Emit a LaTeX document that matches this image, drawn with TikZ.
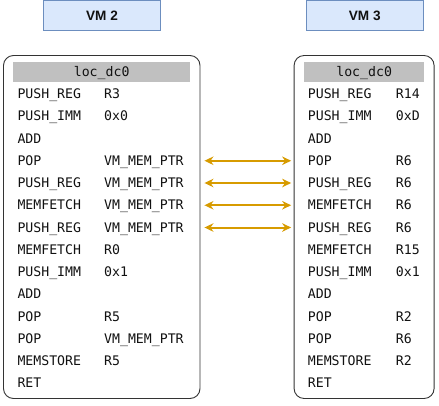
\documentclass[tikz,border=0pt]{standalone}
\usepackage{fontspec}
\setmainfont{Liberation Sans}
\newfontfamily\codefont{DejaVu Sans Mono}
\usetikzlibrary{arrows.meta}
\definecolor{vmfill}{HTML}{DAE8FC}
\definecolor{vmdraw}{HTML}{6C8EBF}
\definecolor{hdrfill}{HTML}{C0C0C0}
\definecolor{arrowc}{HTML}{D79B00}
\definecolor{txt}{HTML}{111111}
\tikzset{
  vmbox/.style={draw=vmdraw, fill=vmfill, line width=0.9pt, minimum height=29.5pt, minimum width=117.3pt, inner sep=0pt, font=\fontsize{13.6}{15}\selectfont\bfseries, text=txt},
  bigbox/.style={draw=black!80, line width=0.9pt, rounded corners=10pt, minimum height=343pt, inner sep=0pt},
  hdr/.style={fill=hdrfill, minimum height=20pt, inner sep=0pt},
  hdrtxt/.style={anchor=base, inner sep=0pt, font=\codefont\fontsize{13.2}{15}\selectfont, text=txt},
  code/.style={anchor=base west, inner sep=0pt, font=\codefont\fontsize{13.2}{15}\selectfont, text=txt},
  link/.style={draw=arrowc, line width=2pt, {Stealth[length=9pt,width=8.5pt]}-{Stealth[length=9pt,width=8.5pt]}}
}
\begin{document}
\begin{tikzpicture}[x=1pt,y=-1pt]
\useasboundingbox (0,0) rectangle (439,405);
\node[vmbox] (vm2) at (102,15.6) {VM 2};
\node[vmbox] (vm3) at (364.7,15.6) {VM 3};
\node[bigbox, minimum width=196.5pt] (L) at (101.75,227) {};
\node[bigbox, minimum width=140pt] (R) at (364.1,227) {};
\node[hdr, minimum width=176.7pt] (Lh) at (101.65,72.3) {};
\node[hdr, minimum width=119.7pt] (Rh) at (364.15,72.3) {};
\node[hdrtxt] (Lht) at (101.65,76.5) {loc\_dc0};
\node[hdrtxt] (Rht) at (364.15,76.5) {loc\_dc0};
% left column
\foreach \i/\a/\b in {0/PUSH\_REG/R3, 1/PUSH\_IMM/0x0, 2/ADD/, 3/POP/VM\_MEM\_PTR, 4/PUSH\_REG/VM\_MEM\_PTR, 5/MEMFETCH/VM\_MEM\_PTR, 6/PUSH\_REG/VM\_MEM\_PTR, 7/MEMFETCH/R0, 8/PUSH\_IMM/0x1, 9/ADD/, 10/POP/R5, 11/POP/VM\_MEM\_PTR, 12/MEMSTORE/R5, 13/RET/}{
  \node[code] (la\i) at (17.3,{98.7+22.25*\i}) {\a};
  \node[code] (lb\i) at (104,{98.7+22.25*\i}) {\b};
}
% right column
\foreach \i/\a/\b in {0/PUSH\_REG/R14, 1/PUSH\_IMM/0xD, 2/ADD/, 3/POP/R6, 4/PUSH\_REG/R6, 5/MEMFETCH/R6, 6/PUSH\_REG/R6, 7/MEMFETCH/R15, 8/PUSH\_IMM/0x1, 9/ADD/, 10/POP/R2, 11/POP/R6, 12/MEMSTORE/R2, 13/RET/}{
  \node[code] (ra\i) at (307.7,{98.7+22.25*\i}) {\a};
  \node[code] (rb\i) at (395.7,{98.7+22.25*\i}) {\b};
}
\foreach \i in {3,4,5,6}{
  \draw[link] ([xshift=4pt,yshift=4.7pt]lb\i.base -| L.east) -- ([xshift=-2.5pt,yshift=4.7pt]ra\i.base -| R.west);
}
\end{tikzpicture}
\end{document}
